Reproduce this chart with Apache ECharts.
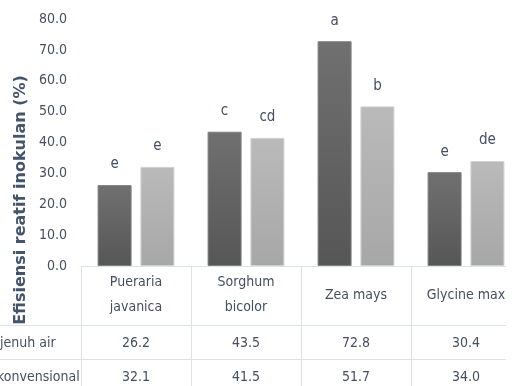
<!DOCTYPE html>
<html>
<head>
<meta charset="utf-8">
<script src="https://cdn.jsdelivr.net/npm/echarts@6/dist/echarts.min.js"></script>
<style>
  html, body { margin: 0; padding: 0; background: #fff; }
  #chart { width: 522px; height: 386px; }
</style>
</head>
<body>
<div id="chart"></div>
<script>
// data
const categories = ['Pueraria\njavanica', 'Sorghum\nbicolor', 'Zea mays', 'Glycine max'];
const jenuhAir = [26.2, 43.5, 72.8, 30.4];
const konvensional = [32.1, 41.5, 51.7, 34.0];
const jenuhLetters = ['e', 'c', 'a', 'e'];
const konvLetters = ['e', 'cd', 'b', 'de'];
const rowNames = ['jenuh air', 'konvensional'];
const yTitle = 'Efisiensi reatif inokulan (%)';

// layout
const W = 522, H = 386;
const gridLeft = 81, gridRight = 1, gridTop = 19, gridBottom = 120;
const axisY = H - gridBottom;          // 266
const row1Y = 325, row2Y = 359;        // table row lines
const tableRight = 506;
const colW = (W - gridLeft - gridRight) / categories.length;

const narrow = "'Liberation Sans Narrow', 'DejaVu Sans Condensed', sans-serif";
const fs = 14;
const txt = '#454f60';
const lineCol = '#dde1e8';

const chart = echarts.init(document.getElementById('chart'));

const letterLabel = (letters) => ({
  show: true,
  position: 'top',
  distance: 13,
  fontFamily: narrow,
  fontSize: 15,
  color: txt,
  formatter: p => letters[p.dataIndex]
});

// table lines
const lines = [];
lines.push({ type: 'line', shape: { x1: gridLeft, y1: axisY + 0.5, x2: tableRight, y2: axisY + 0.5 }, style: { stroke: lineCol, lineWidth: 1 } });
[row1Y, row2Y].forEach(y => {
  lines.push({ type: 'line', shape: { x1: 0, y1: y + 0.5, x2: tableRight, y2: y + 0.5 }, style: { stroke: lineCol, lineWidth: 1 } });
});
for (let i = 0; i < categories.length; i++) {
  const x = Math.round(gridLeft + i * colW) + 0.5;
  lines.push({ type: 'line', shape: { x1: x, y1: axisY, x2: x, y2: H }, style: { stroke: lineCol, lineWidth: 1 } });
}

const valueAxis = (vals, margin) => ({
  type: 'category',
  position: 'bottom',
  data: vals.map(v => v.toFixed(1)),
  axisLine: { show: false },
  axisTick: { show: false },
  axisLabel: {
    margin: margin,
    verticalAlign: 'middle',
    fontFamily: narrow,
    fontSize: fs,
    color: txt
  }
});

chart.setOption({
  animation: false,
  grid: { left: gridLeft, right: gridRight, top: gridTop, bottom: gridBottom },
  xAxis: [
    {
      type: 'category',
      data: categories,
      axisLine: { show: false },
      axisTick: { show: false },
      axisLabel: {
        margin: 29,
        verticalAlign: 'middle',
        lineHeight: 25,
        fontFamily: narrow,
        fontSize: fs,
        color: txt,
        interval: 0
      }
    },
    valueAxis(jenuhAir, 77),
    valueAxis(konvensional, 111)
  ],
  yAxis: {
    type: 'value',
    min: 0,
    max: 80,
    interval: 10,
    axisLine: { show: false },
    axisTick: { show: false },
    splitLine: { show: false },
    axisLabel: {
      margin: 14,
      fontFamily: narrow,
      fontSize: fs,
      color: txt,
      formatter: v => v.toFixed(1)
    }
  },
  graphic: lines.concat([
    {
      type: 'text',
      x: 21, y: 200,
      rotation: Math.PI / 2,
      style: {
        text: yTitle,
        align: 'center',
        verticalAlign: 'middle',
        fontFamily: "'DejaVu Sans', sans-serif",
        fontWeight: 'bold',
        fontSize: 16,
        fill: '#44546a'
      }
    },
    {
      type: 'text', x: 0, y: (row1Y + row2Y) / 2 + 1,
      style: { text: rowNames[0], align: 'left', verticalAlign: 'middle', fontFamily: narrow, fontSize: fs, fill: txt }
    },
    {
      type: 'text', x: -3, y: row2Y + 18,
      style: { text: rowNames[1], align: 'left', verticalAlign: 'middle', fontFamily: narrow, fontSize: fs, fill: txt }
    }
  ]),
  series: [
    {
      name: rowNames[0],
      type: 'bar',
      data: jenuhAir,
      barWidth: 34,
      barGap: '26%',
      itemStyle: {
        color: new echarts.graphic.LinearGradient(0, 0, 0, 1, [
          { offset: 0, color: '#707070' },
          { offset: 1, color: '#565656' }
        ]),
        borderColor: '#808080',
        borderWidth: 1
      },
      label: letterLabel(jenuhLetters)
    },
    {
      name: rowNames[1],
      type: 'bar',
      data: konvensional,
      barWidth: 34,
      itemStyle: {
        color: new echarts.graphic.LinearGradient(0, 0, 0, 1, [
          { offset: 0, color: '#bababa' },
          { offset: 1, color: '#a7a7a7' }
        ]),
        borderColor: '#d2d2d2',
        borderWidth: 1
      },
      label: letterLabel(konvLetters)
    }
  ]
});
</script>
</body>
</html>
